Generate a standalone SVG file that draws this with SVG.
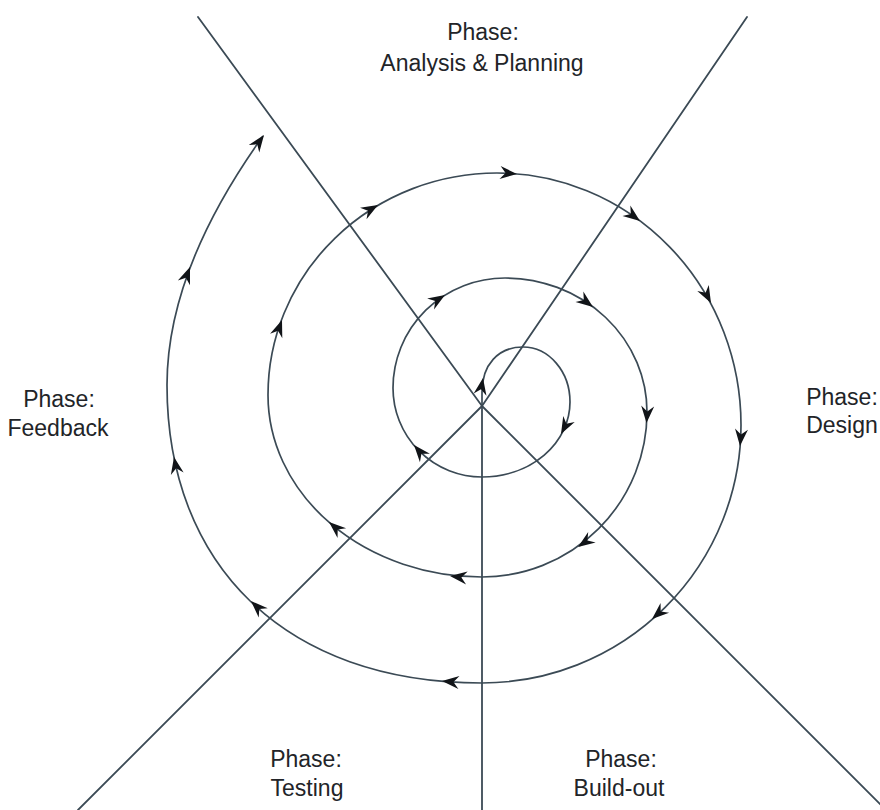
<svg xmlns="http://www.w3.org/2000/svg" xmlns:xlink="http://www.w3.org/1999/xlink" width="880" height="810" viewBox="0 0 880 810">
  <style>
    .bg { fill: #ffffff; }
    .divider { stroke: #3b4a55; stroke-width: 1.8; fill: none; stroke-linecap: round; }
    .spiral { stroke: #3b4a55; stroke-width: 1.7; fill: none; }
    .head { fill: #111418; stroke: none; }
    .label { font-family: "Liberation Sans", Arial, sans-serif; font-size: 23px; fill: #222428; text-anchor: middle; }
  </style>
  <defs>
    <path id="ah" d="M0,0 L-17,-6.5 L-11.5,0 L-17,6.5 Z"/>
  </defs>
  <rect class="bg" x="0" y="0" width="880" height="810"/>

  <g id="connectors">
    <g id="dividers">
      <line class="divider" x1="482" y1="406" x2="198" y2="17"/>
      <line class="divider" x1="482" y1="406" x2="747" y2="17"/>
      <line class="divider" x1="482" y1="406" x2="78" y2="810"/>
      <line class="divider" x1="482" y1="406" x2="886" y2="810"/>
      <line class="divider" x1="482" y1="406" x2="482" y2="810"/>
    </g>
    <g id="spiral-flow">
      <path class="spiral" d="M482,406 L482,392 C482,365 498,347 523,347
        A47,55 0 0 1 570,402
        A88,75 0 0 1 482,477
        A89,89 0 0 1 393,388
        A112,110 0 0 1 505,278
        A142,134 0 0 1 647,412
        A165,165 0 0 1 482,577
        A214,182 0 0 1 268,395
        A229,222 0 0 1 497,173
        A244,252 0 0 1 741,425
        A259,258 0 0 1 482,683
        C285,683 167,565 167,385
        C167,295 210,210 263,136"/>
      <g class="head">
        <use xlink:href="#ah" href="#ah" transform="translate(483,378) rotate(-80)"/>
        <use xlink:href="#ah" href="#ah" transform="translate(561,434) rotate(118)"/>
        <use xlink:href="#ah" href="#ah" transform="translate(414,445) rotate(-130)"/>
        <use xlink:href="#ah" href="#ah" transform="translate(445,295) rotate(-32)"/>
        <use xlink:href="#ah" href="#ah" transform="translate(593,307) rotate(37)"/>
        <use xlink:href="#ah" href="#ah" transform="translate(646.5,423) rotate(94)"/>
        <use xlink:href="#ah" href="#ah" transform="translate(578,547) rotate(145)"/>
        <use xlink:href="#ah" href="#ah" transform="translate(450,576) rotate(187)"/>
        <use xlink:href="#ah" href="#ah" transform="translate(329,522) rotate(-139)"/>
        <use xlink:href="#ah" href="#ah" transform="translate(282,320) rotate(-70)"/>
        <use xlink:href="#ah" href="#ah" transform="translate(378,205) rotate(-30)"/>
        <use xlink:href="#ah" href="#ah" transform="translate(517,174) rotate(5)"/>
        <use xlink:href="#ah" href="#ah" transform="translate(640,221) rotate(37)"/>
        <use xlink:href="#ah" href="#ah" transform="translate(711,303) rotate(62)"/>
        <use xlink:href="#ah" href="#ah" transform="translate(740,446) rotate(95)"/>
        <use xlink:href="#ah" href="#ah" transform="translate(652,619) rotate(139)"/>
        <use xlink:href="#ah" href="#ah" transform="translate(442,681) rotate(185)"/>
        <use xlink:href="#ah" href="#ah" transform="translate(251,601) rotate(-136)"/>
        <use xlink:href="#ah" href="#ah" transform="translate(174,457) rotate(-101)"/>
        <use xlink:href="#ah" href="#ah" transform="translate(190,267) rotate(-69)"/>
        <use xlink:href="#ah" href="#ah" transform="translate(264,135) rotate(-54)"/>
      </g>
    </g>
  </g>

  <g id="phase-analysis">
    <text class="label" x="483" y="40">Phase:</text>
    <text class="label" x="482" y="71">Analysis &amp; Planning</text>
  </g>
  <g id="phase-design">
    <text class="label" x="842" y="405">Phase:</text>
    <text class="label" x="842" y="433">Design</text>
  </g>
  <g id="phase-buildout">
    <text class="label" x="621" y="767">Phase:</text>
    <text class="label" x="619" y="796">Build-out</text>
  </g>
  <g id="phase-testing">
    <text class="label" x="306" y="767">Phase:</text>
    <text class="label" x="307" y="796">Testing</text>
  </g>
  <g id="phase-feedback">
    <text class="label" x="59" y="407">Phase:</text>
    <text class="label" x="58" y="436">Feedback</text>
  </g>
</svg>
